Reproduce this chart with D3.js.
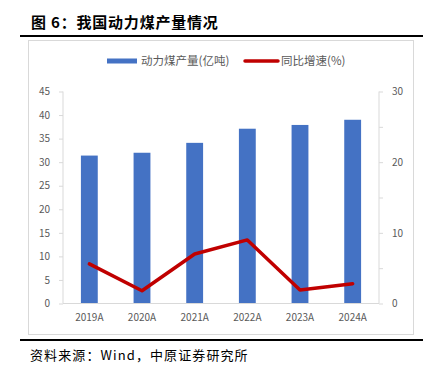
<!DOCTYPE html>
<html><head><meta charset="utf-8">
<script src="https://cdn.jsdelivr.net/npm/d3@7"></script>
<style>
html,body{margin:0;padding:0;background:#fff;}
svg text{font-family:"Noto Sans CJK SC","Noto Sans",sans-serif;}
</style></head>
<body><svg id="c" width="429" height="375"></svg>
<script>
const categories = ["2019A","2020A","2021A","2022A","2023A","2024A"];
const output = [31.4, 32.0, 34.1, 37.1, 37.9, 39.0];
const growth = [5.6, 1.8, 7.0, 9.0, 1.9, 2.8];
const leftTicks = [0,5,10,15,20,25,30,35,40,45];
const rightTicks = [0,10,20,30];
const rightMinor = [0,5,10,15,20,25,30];
const title = "图 6：我国动力煤产量情况";
const source = "资料来源：Wind，中原证券研究所";
const legendNames = ["动力煤产量(亿吨)","同比增速(%)"];

const svg = d3.select("#c");
const grey = "#d9d9d9", txt = "#595959";
const blue = "#4472c4", red = "#c00000";

svg.append("text").attr("x",31).attr("y",28).attr("font-size",15).attr("font-weight","bold")
  .attr("letter-spacing",0.8).attr("fill","#000").text(title);
svg.append("line").attr("x1",20).attr("x2",423).attr("y1",36).attr("y2",36).attr("stroke","#000").attr("stroke-width",2.2);
svg.append("rect").attr("x",28.5).attr("y",40.5).attr("width",385).attr("height",294).attr("fill","none").attr("stroke",grey);
svg.append("line").attr("x1",20).attr("x2",423).attr("y1",340).attr("y2",340).attr("stroke","#000").attr("stroke-width",2.2);
svg.append("text").attr("x",30).attr("y",360).attr("font-size",13).attr("letter-spacing",1.1).attr("fill","#000").text(source);

const x = d3.scaleBand().domain(categories).range([63,379]).paddingInner(0.68).paddingOuter(0.34);
const yL = d3.scaleLinear().domain([0,45]).range([303.5,91.5]);
const yR = d3.scaleLinear().domain([0,30]).range([303.5,91.5]);

// bars
svg.append("g").selectAll("rect").data(categories).join("rect")
  .attr("x",d=>x(d)).attr("width",x.bandwidth())
  .attr("y",(d,i)=>yL(output[i])).attr("height",(d,i)=>yL(0)-yL(output[i]))
  .attr("fill",blue);

// left axis
const gl = svg.append("g").attr("transform","translate(63,0)")
  .call(d3.axisLeft(yL).tickValues(leftTicks).tickSize(4).tickPadding(9));
gl.select(".domain").attr("stroke",grey).attr("d","M0,91.5V303.5");
gl.selectAll(".tick line").attr("stroke",grey);
gl.selectAll(".tick text").attr("fill",txt).attr("font-family","'DejaVu Sans','Noto Sans',sans-serif").style("font-size","10px");

// right axis
const gr = svg.append("g").attr("transform","translate(379,0)")
  .call(d3.axisRight(yR).tickValues(rightMinor).tickSize(4).tickPadding(9)
     .tickFormat(d=>rightTicks.includes(d)?d:""));
gr.select(".domain").attr("stroke",grey).attr("d","M0,91.5V303.5");
gr.selectAll(".tick line").attr("stroke",grey);
gr.selectAll(".tick text").attr("fill",txt).style("font-size","10px").attr("font-family","'DejaVu Sans','Noto Sans',sans-serif");

// x axis
const gx = svg.append("g").attr("transform","translate(0,303.5)")
  .call(d3.axisBottom(x).tickSize(0).tickPadding(10));
gx.select(".domain").attr("stroke",grey).attr("d","M63,0H379");
gx.selectAll(".tick text").attr("fill",txt).style("font-size","10px").attr("font-family","'DejaVu Sans','Noto Sans',sans-serif");

// line
const line = d3.line().x((d,i)=>x(categories[i])+x.bandwidth()/2).y(d=>yR(d));
svg.append("path").datum(growth).attr("d",line).attr("fill","none")
  .attr("stroke",red).attr("stroke-width",3.5).attr("stroke-linejoin","round").attr("stroke-linecap","round");

// legend
const lg = svg.append("g");
lg.append("rect").attr("x",107).attr("y",58.5).attr("width",30).attr("height",5).attr("fill",blue);
lg.append("text").attr("x",141).attr("y",65).attr("font-size",11.5).attr("fill",txt).text(legendNames[0]);
lg.append("line").attr("x1",245).attr("x2",278).attr("y1",61).attr("y2",61).attr("stroke",red).attr("stroke-width",3.5).attr("stroke-linecap","round");
lg.append("text").attr("x",281).attr("y",65).attr("font-size",11.5).attr("fill",txt).text(legendNames[1]);
</script></body></html>
